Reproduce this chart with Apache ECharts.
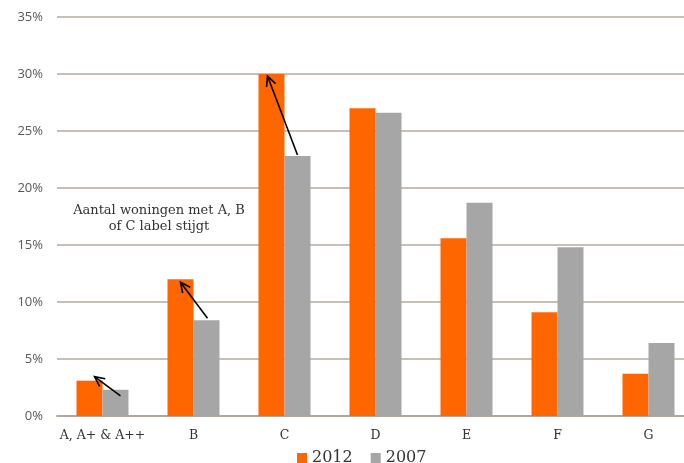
<!DOCTYPE html>
<html>
<head>
<meta charset="utf-8">
<script src="https://cdn.jsdelivr.net/npm/echarts@6/dist/echarts.min.js"></script>
<style>
  html, body { margin: 0; padding: 0; background: #fff; }
  #chart { width: 684px; height: 463px; }
</style>
</head>
<body>
<div id="chart"></div>
<script>
// energielabels woningvoorraad, aandeel per label
const categories = ["A, A+ & A++", "B", "C", "D", "E", "F", "G"];
const values2012 = [3.1, 12.0, 30.0, 27.0, 15.6, 9.1, 3.7];
const values2007 = [2.3, 8.4, 22.8, 26.6, 18.7, 14.8, 6.4];
const seriesNames = ["2012", "2007"];

// pijlen van 2007 naar 2012: [categorie, staart dx, staart dy, kop dx, kop dy] in px
const arrowDefs = [
  [0, 18, 6, -8, -4],
  [1, 14, -2, -13, 3],
  [2, 13, -1, -17, 2]
];

const textFont = "DejaVu Serif";

const chart = echarts.init(document.getElementById("chart"));

const option = {
  animation: false,
  grid: { left: 57, width: 637, top: 17, bottom: 47, outerBoundsMode: "none" },
  legend: {
    left: 292,
    top: 445,
    itemWidth: 10,
    itemHeight: 10,
    itemGap: 18,
    icon: "rect",
    textStyle: { fontFamily: textFont, fontSize: 16, color: "#333" },
    data: seriesNames
  },
  xAxis: {
    type: "category",
    data: categories,
    axisLine: { lineStyle: { color: "#b0a89c", width: 2 } },
    axisTick: { show: false },
    axisLabel: { interval: 0, fontFamily: textFont, fontSize: 12.5, color: "#333", margin: 13 }
  },
  yAxis: {
    type: "value",
    min: 0,
    max: 35,
    interval: 5,
    axisLine: { show: false },
    axisTick: { show: false },
    axisLabel: {
      formatter: "{value}%",
      fontFamily: "Open Sans",
      fontSize: 13,
      color: "#595959",
      margin: 14
    },
    splitLine: { lineStyle: { color: "#b3ab9f", width: 1.5 } }
  },
  series: [
    {
      name: seriesNames[0],
      type: "bar",
      data: values2012,
      barWidth: 26,
      barGap: "0%",
      itemStyle: { color: "#ff6600" }
    },
    {
      name: seriesNames[1],
      type: "bar",
      data: values2007,
      barWidth: 26,
      itemStyle: { color: "#a6a6a6" }
    }
  ]
};

chart.setOption(option);

function arrow(x1, y1, x2, y2) {
  const ang = Math.atan2(y2 - y1, x2 - x1);
  const len = 11, spread = 0.45;
  const lineStyle = { stroke: "#000", lineWidth: 1.6 };
  return {
    type: "group",
    z: 100,
    children: [
      { type: "line", z: 100, shape: { x1, y1, x2, y2 }, style: lineStyle },
      {
        type: "polyline",
        z: 100,
        shape: {
          points: [
            [x2 - len * Math.cos(ang - spread), y2 - len * Math.sin(ang - spread)],
            [x2, y2],
            [x2 - len * Math.cos(ang + spread), y2 - len * Math.sin(ang + spread)]
          ]
        },
        style: Object.assign({ fill: "none" }, lineStyle)
      }
    ]
  };
}

const graphics = arrowDefs.map(([i, tdx, tdy, hdx, hdy]) => {
  const tail = chart.convertToPixel({ gridIndex: 0 }, [i, values2007[i]]);
  const head = chart.convertToPixel({ gridIndex: 0 }, [i, values2012[i]]);
  return arrow(tail[0] + tdx, tail[1] + tdy, head[0] + hdx, head[1] + hdy);
});

graphics.push({
  type: "text",
  z: 100,
  x: 159,
  y: 203,
  style: {
    text: "Aantal woningen met A, B\nof C label stijgt",
    font: "13px '" + textFont + "'",
    fill: "#333",
    align: "center",
    lineHeight: 16
  }
});

chart.setOption({ graphic: graphics });
</script>
</body>
</html>
